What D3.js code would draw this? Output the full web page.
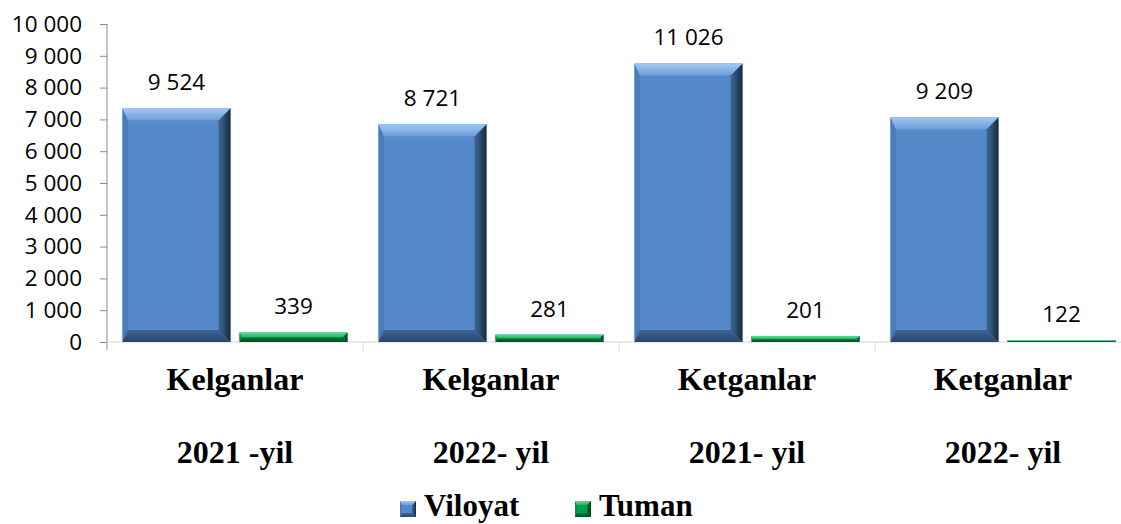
<!DOCTYPE html>
<html>
<head>
<meta charset="utf-8">
<script src="https://cdn.jsdelivr.net/npm/d3@7"></script>
<style>
  body { margin: 0; background: #fff; }
  svg { display: block; }
</style>
</head>
<body>
<div id="chart"></div>
<script>
// Kelganlar / Ketganlar bar chart

const groupNames = ["Kelganlar", "Kelganlar", "Ketganlar", "Ketganlar"];
const yearNames = ["2021 -yil", "2022- yil", "2021- yil", "2022- yil"];
const seriesNames = ["Viloyat", "Tuman"];

// bar heights as drawn in the picture
const viloyatValues = [7350, 6850, 8760, 7070];
const tumanValues = [300, 235, 190, 60];

// numbers printed above the bars
const viloyatLabels = [9524, 8721, 11026, 9209];
const tumanLabels = [339, 281, 201, 122];

const yTicks = [0, 1000, 2000, 3000, 4000, 5000, 6000, 7000, 8000, 9000, 10000];

const width = 1121;
const height = 524;

const fmt = d3.formatLocale({ decimal: ",", thousands: " ", grouping: [3], currency: ["", ""] }).format(",d");

const svg = d3.select("#chart").append("svg")
    .attr("width", width)
    .attr("height", height);

const defs = svg.append("defs");

function grad(id, x2, y2, c1, c2) {
    const g = defs.append("linearGradient")
        .attr("id", id)
        .attr("x1", 0).attr("y1", 0)
        .attr("x2", x2).attr("y2", y2);
    g.append("stop").attr("offset", "0%").attr("stop-color", c1);
    g.append("stop").attr("offset", "100%").attr("stop-color", c2);
}

const palette = {
    Viloyat: { main: "#5589c9", top: ["#a2c8f2", "#6d9ddb"], right: ["#41689a", "#1a2b42"], bottom: ["#3f6596", "#2b4468"], left: "#4c7cb8" },
    Tuman: { main: "#00a04e", top: ["#6ed69a", "#22b465"], right: ["#00783a", "#003a1c"], bottom: ["#007a3a", "#004d27"], left: "#009347" }
};

seriesNames.forEach(s => {
    const p = palette[s];
    grad("top-" + s, 0, 1, p.top[0], p.top[1]);
    grad("right-" + s, 1, 0, p.right[0], p.right[1]);
    grad("bottom-" + s, 0, 1, p.bottom[0], p.bottom[1]);
});

const x = d3.scaleBand()
    .domain(d3.range(groupNames.length))
    .range([107, 1131])
    .padding(0);

const xs = d3.scaleBand()
    .domain(seriesNames)
    .range([0, x.bandwidth()])
    .paddingInner(0.077)
    .paddingOuter(0.1325);

const y = d3.scaleLinear()
    .domain([0, 10000])
    .range([342, 24]);

// y axis
const yAxis = svg.append("g")
    .attr("transform", "translate(107,0)")
    .call(d3.axisLeft(y).tickValues(yTicks).tickSize(7).tickPadding(10).tickFormat(fmt));
yAxis.select(".domain").attr("stroke", "#8c8c8c").attr("d", "M0,24V350");
yAxis.selectAll(".tick line").attr("stroke", "#8c8c8c");
yAxis.selectAll(".tick text")
    .attr("font-family", "Open Sans, sans-serif")
    .attr("font-size", "22.5px")
    .attr("fill", "#000")
    .attr("x", -25);

// x axis line and category separators
svg.append("line")
    .attr("x1", 107).attr("x2", width)
    .attr("y1", y(0)).attr("y2", y(0))
    .attr("stroke", "#d6d6d6");

svg.selectAll(".sep")
    .data(d3.range(1, groupNames.length))
    .join("line")
    .attr("class", "sep")
    .attr("x1", d => x(d)).attr("x2", d => x(d))
    .attr("y1", y(0)).attr("y2", y(0) + 9)
    .attr("stroke", "#d6d6d6");

function drawBevel(g, x0, x1, y0, y1, s, maxB) {
    const p = palette[s];
    const b = Math.min(maxB, (y1 - y0) / 2, (x1 - x0) / 2);
    g.append("rect")
        .attr("x", x0).attr("y", y0)
        .attr("width", x1 - x0).attr("height", y1 - y0)
        .attr("fill", p.main);
    const poly = (pts, fill) => g.append("polygon")
        .attr("points", pts.map(q => q.join(",")).join(" "))
        .attr("fill", fill);
    poly([[x0, y0], [x0 + b * 0.45, y0 + b], [x0 + b * 0.45, y1 - b], [x0, y1]], p.left);
    poly([[x0, y1], [x0 + b * 0.45, y1 - b], [x1 - b, y1 - b], [x1, y1]], "url(#bottom-" + s + ")");
    poly([[x1, y0], [x1, y1], [x1 - b, y1 - b], [x1 - b, y0 + b]], "url(#right-" + s + ")");
    poly([[x0, y0], [x1, y0], [x1 - b, y0 + b], [x0 + b * 0.45, y0 + b]], "url(#top-" + s + ")");
}

const seriesValues = { Viloyat: viloyatValues, Tuman: tumanValues };
const seriesLabels = { Viloyat: viloyatLabels, Tuman: tumanLabels };

const bars = svg.append("g");
seriesNames.forEach(s => {
    seriesValues[s].forEach((v, i) => {
        const x0 = x(i) + xs(s);
        const x1 = x0 + xs.bandwidth();
        drawBevel(bars.append("g"), x0, x1, y(v), y(0), s, 12);

        svg.append("text")
            .attr("x", x0 + xs.bandwidth() / 2)
            .attr("y", y(v) - 18)
            .attr("text-anchor", "middle")
            .attr("font-family", "Open Sans, sans-serif")
            .attr("font-size", "22.5px")
            .attr("fill", "#000")
            .text(fmt(seriesLabels[s][i]));
    });
});

// category labels
const cats = svg.append("g")
    .attr("font-family", "Liberation Serif, Times New Roman, serif")
    .attr("font-weight", "bold")
    .attr("font-size", "32px")
    .attr("text-anchor", "middle")
    .attr("fill", "#000");

groupNames.forEach((name, i) => {
    const cx = x(i) + x.bandwidth() / 2;
    cats.append("text").attr("x", cx).attr("y", 390).text(name);
    cats.append("text").attr("x", cx).attr("y", 463).text(yearNames[i]);
});

// legend
const legendX = [400, 575];
const legend = svg.append("g");
seriesNames.forEach((s, i) => {
    const lx = legendX[i];
    drawBevel(legend.append("g"), lx, lx + 16, 501, 517, s, 4);
    legend.append("text")
        .attr("x", lx + 24)
        .attr("y", 516)
        .attr("font-family", "Liberation Serif, Times New Roman, serif")
        .attr("font-weight", "bold")
        .attr("font-size", "31px")
        .attr("fill", "#000")
        .text(s);
});
</script>
</body>
</html>
